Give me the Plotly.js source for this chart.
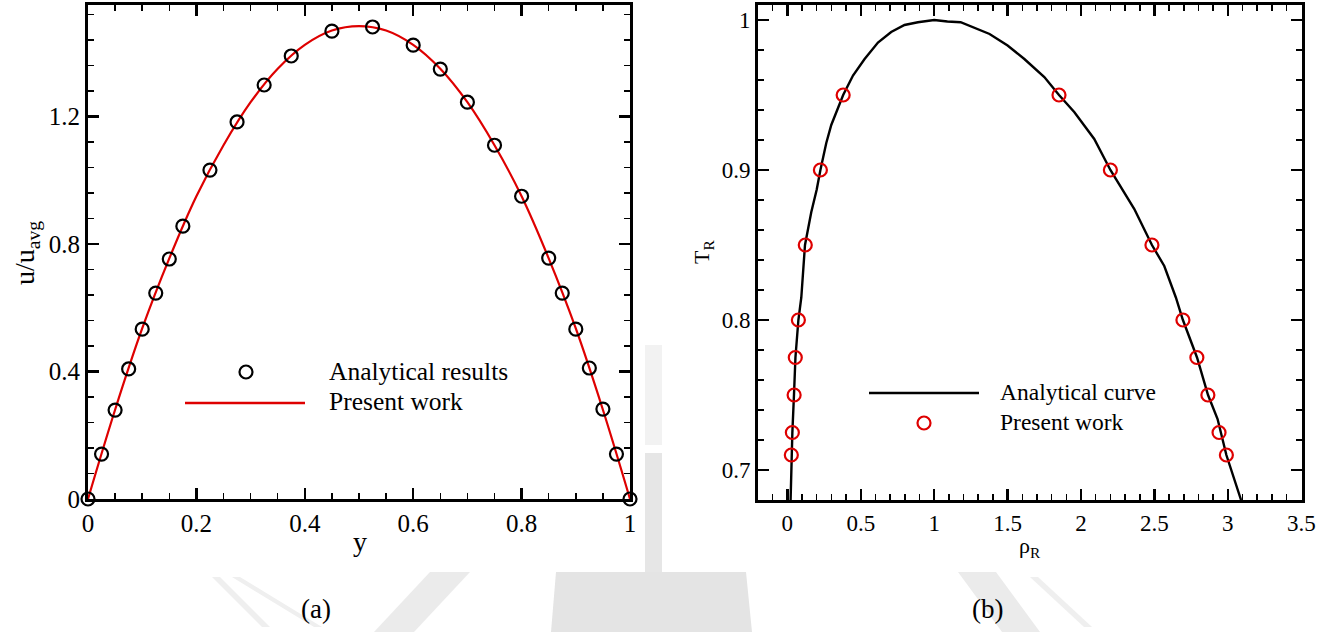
<!DOCTYPE html>
<html>
<head>
<meta charset="utf-8">
<script src="https://cdn.plot.ly/plotly-3.0.1.min.js"></script>
<style>
  html, body { margin: 0; padding: 0; background: #ffffff; }
  #chart { width: 1330px; height: 632px; }
</style>
</head>
<body>
<div id="chart"></div>
<script>
// (a) channel velocity profile: positions across the channel and normalised velocity
const yPos = [0, 0.025, 0.05, 0.075, 0.1, 0.125, 0.15, 0.175, 0.225, 0.275, 0.325, 0.375,
              0.45, 0.525, 0.6, 0.65, 0.7, 0.75, 0.8, 0.85, 0.875, 0.9, 0.925, 0.95, 0.975, 1.0];
const uAnalytical = [0, 0.141, 0.279, 0.408, 0.533, 0.646, 0.753, 0.856, 1.032, 1.183, 1.299, 1.39,
                     1.468, 1.481, 1.424, 1.349, 1.245, 1.11, 0.95, 0.756, 0.646, 0.533, 0.411, 0.282, 0.141, 0];
const yLine = [0, 0.05, 0.1, 0.15, 0.2, 0.25, 0.3, 0.35, 0.4, 0.45, 0.5,
               0.55, 0.6, 0.65, 0.7, 0.75, 0.8, 0.85, 0.9, 0.95, 1.0];
const uPresent = [0, 0.28, 0.535, 0.755, 0.95, 1.11, 1.245, 1.35, 1.425, 1.47, 1.484,
                  1.47, 1.425, 1.35, 1.245, 1.11, 0.95, 0.755, 0.535, 0.28, 0];

// (b) coexistence curve: reduced density vs reduced temperature
const rhoCurve = [0.022, 0.027, 0.034, 0.045, 0.055, 0.075, 0.095, 0.12, 0.163, 0.2, 0.225, 0.265,
                  0.299, 0.38, 0.447, 0.526, 0.617, 0.707, 0.798, 0.889, 1.0, 1.09, 1.18, 1.377,
                  1.5, 1.614, 1.75, 1.85, 1.955, 2.09, 2.2, 2.363, 2.483, 2.567, 2.646, 2.694,
                  2.79, 2.865, 2.93, 2.99, 3.09];
const tCurve = [0.68, 0.71, 0.725, 0.75, 0.775, 0.8, 0.815, 0.85, 0.872, 0.887, 0.9, 0.918,
                0.93, 0.95, 0.963, 0.974, 0.985, 0.992, 0.9967, 0.9985, 1.0, 0.999, 0.9985, 0.9907,
                0.983, 0.974, 0.962, 0.95, 0.9385, 0.9207, 0.9, 0.874, 0.85, 0.836, 0.815, 0.8,
                0.775, 0.75, 0.734, 0.71, 0.68];
const rhoPresent = [0.027, 0.034, 0.046, 0.054, 0.075, 0.122, 0.225, 0.38,
                    1.85, 2.2, 2.483, 2.694, 2.789, 2.864, 2.94, 2.99];
const tPresent = [0.71, 0.725, 0.75, 0.775, 0.8, 0.85, 0.9, 0.95,
                  0.95, 0.9, 0.85, 0.8, 0.775, 0.75, 0.725, 0.71];

const W = 1330, H = 632;
const px = v => v / W;
const py = v => 1 - v / H;
const SERIF = '"Liberation Serif", "Times New Roman", "DejaVu Serif", serif';
const RED = 'rgb(222,0,0)';

const traces = [
  { x: yLine, y: uPresent, xaxis: 'x', yaxis: 'y', mode: 'lines', name: 'Present work',
    line: { color: RED, width: 2.2, shape: 'spline', smoothing: 1 } },
  { x: yPos, y: uAnalytical, xaxis: 'x', yaxis: 'y', mode: 'markers', name: 'Analytical results',
    marker: { symbol: 'circle-open', size: 13, color: '#000', line: { width: 2.2, color: '#000' } },
    cliponaxis: false },
  { x: rhoCurve, y: tCurve, xaxis: 'x2', yaxis: 'y2', mode: 'lines', name: 'Analytical curve',
    line: { color: '#000', width: 2.4 } },
  { x: rhoPresent, y: tPresent, xaxis: 'x2', yaxis: 'y2', mode: 'markers', name: 'Present work',
    marker: { symbol: 'circle-open', size: 13, color: RED, line: { width: 2.2, color: RED } } }
];

function axis(extra, fontSize) {
  return Object.assign({
    showline: true, linecolor: '#000', linewidth: 3, mirror: 'ticks',
    ticks: 'inside', ticklen: 11, tickwidth: 2.5, tickcolor: '#000',
    showgrid: false, zeroline: false,
    tickfont: { family: SERIF, size: fontSize, color: '#000' }
  }, extra);
}

const layout = {
  width: W, height: H,
  margin: { l: 0, r: 0, t: 0, b: 0 },
  paper_bgcolor: '#fff', plot_bgcolor: '#fff',
  font: { family: SERIF, color: '#000' },
  showlegend: false,
  xaxis: axis({ domain: [px(88), px(630)], anchor: 'y', range: [0, 1], dtick: 0.2, tick0: 0,
                minor: { dtick: 0.05, ticks: 'inside', ticklen: 6, tickwidth: 1.5, tickcolor: '#000' } }, 25),
  yaxis: axis({ domain: [py(499), py(5)], anchor: 'x', range: [0, 1.55], dtick: 0.4, tick0: 0,
                minor: { dtick: 0.08, ticks: 'inside', ticklen: 6, tickwidth: 1.5, tickcolor: '#000' } }, 25),
  xaxis2: axis({ domain: [px(758), px(1302)], anchor: 'y2', range: [-0.2, 3.505], dtick: 0.5, tick0: 0,
                 minor: { dtick: 0.1, tick0: 0, ticks: 'inside', ticklen: 6, tickwidth: 1.5, tickcolor: '#000' } }, 23),
  yaxis2: axis({ domain: [py(500), py(5)], anchor: 'x2', range: [0.68, 1.01], dtick: 0.1, tick0: 0.7,
                 minor: { dtick: 0.02, tick0: 0.7, ticks: 'inside', ticklen: 6, tickwidth: 1.5, tickcolor: '#000' } }, 23),
  annotations: [],
  shapes: []
};

function label(text, x, y, size, opts) {
  layout.annotations.push(Object.assign({
    text: text, xref: 'paper', yref: 'paper', x: px(x), y: py(y),
    xanchor: 'center', yanchor: 'middle', showarrow: false,
    font: { family: SERIF, size: size, color: '#000' }
  }, opts || {}));
}

// axis titles and panel tags
label('y', 360, 541, 28);
label('u/u<sub>avg</sub>', 26, 253, 28, { textangle: -90 });
label('T<sub>R</sub>', 703, 252, 22, { textangle: -90 });
label('ρ<sub>R</sub>', 1030, 547, 22);
label('(a)', 316, 609, 27);
label('(b)', 987, 609, 27);

// legend (a)
label('Analytical results', 327, 371, 25.5, { xanchor: 'left' });
label('Present work', 327, 402, 25.5, { xanchor: 'left' });
layout.shapes.push({ type: 'circle', xref: 'paper', yref: 'paper', layer: 'above',
  x0: px(246 - 6.5), x1: px(246 + 6.5), y0: py(372 + 6.5), y1: py(372 - 6.5),
  line: { color: '#000', width: 2.2 } });
layout.shapes.push({ type: 'line', xref: 'paper', yref: 'paper', layer: 'above',
  x0: px(185), x1: px(305), y0: py(403), y1: py(403), line: { color: RED, width: 2.4 } });

// legend (b)
label('Analytical curve', 998, 392, 23.5, { xanchor: 'left' });
label('Present work', 998, 422, 23.5, { xanchor: 'left' });
layout.shapes.push({ type: 'line', xref: 'paper', yref: 'paper', layer: 'above',
  x0: px(869), x1: px(979), y0: py(393), y1: py(393), line: { color: '#000', width: 2.6 } });
layout.shapes.push({ type: 'circle', xref: 'paper', yref: 'paper', layer: 'above',
  x0: px(924 - 6.5), x1: px(924 + 6.5), y0: py(423 + 6.5), y1: py(423 - 6.5),
  line: { color: RED, width: 2.2 } });

// faint background emblem showing around the two panels
function poly(pts, color) {
  const d = 'M' + pts.map(p => px(p[0]) + ',' + py(p[1])).join(' L') + ' Z';
  layout.shapes.push({ type: 'path', xref: 'paper', yref: 'paper', layer: 'below',
    path: d, fillcolor: color, line: { width: 0 } });
}
poly([[556, 572], [746, 572], [752, 632], [551, 632]], '#e4e4e4');
poly([[645, 453], [662, 453], [662, 572], [645, 572]], '#e6e6e6');
poly([[645, 345], [662, 345], [662, 445], [645, 445]], '#f2f2f2');
poly([[430, 572], [470, 572], [414, 632], [374, 632]], '#ebebeb');
poly([[958, 572], [996, 572], [1040, 632], [1002, 632]], '#ebebeb');
poly([[212, 577], [220, 577], [270, 627], [262, 627]], '#efefef');
poly([[232, 577], [240, 577], [322, 627], [314, 627]], '#efefef');
poly([[1030, 577], [1038, 577], [1092, 627], [1084, 627]], '#efefef');

Plotly.newPlot('chart', traces, layout, { displayModeBar: false, staticPlot: true });
</script>
</body>
</html>
